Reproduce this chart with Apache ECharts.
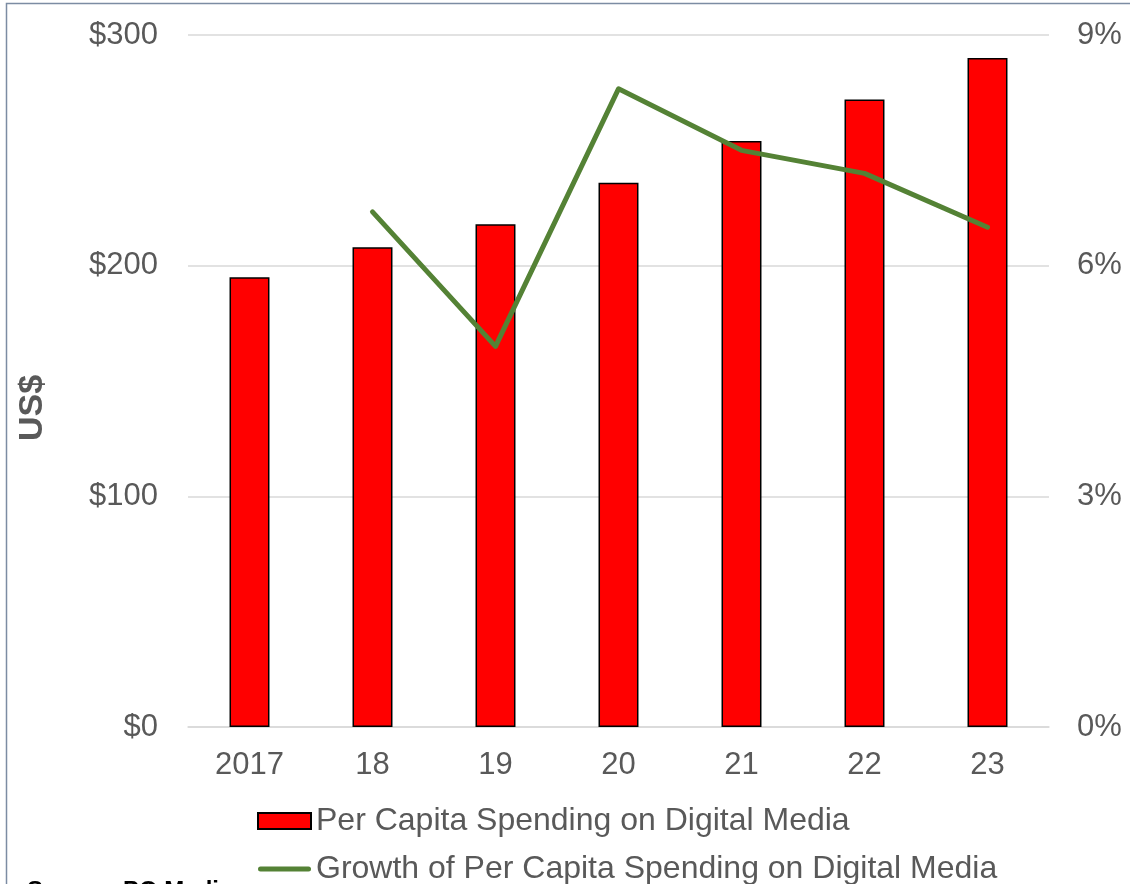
<!DOCTYPE html>
<html>
<head>
<meta charset="utf-8">
<script src="https://cdn.jsdelivr.net/npm/echarts@6/dist/echarts.min.js"></script>
<style>
  html, body { margin: 0; padding: 0; background: #fff; }
  #chart { width: 1130px; height: 884px; }
</style>
</head>
<body>
<div id="chart"></div>
<script>
// Per capita spending on digital media (US$) and its year-on-year growth (%)
const years = ['2017', '18', '19', '20', '21', '22', '23'];
const spending = [195, 208, 218, 236, 254, 272, 290];
const growth = [null, 6.7, 4.95, 8.3, 7.5, 7.2, 6.5];
const leftTicks = { min: 0, max: 300, interval: 100 };
const rightTicks = { min: 0, max: 9, interval: 3 };

const FONT = '"Liberation Sans", Arial, sans-serif';
const GREY = '#595959';
const GREEN = '#548235';

// thick rounded stroke used as the legend swatch of the growth line
const LINE_ICON = 'path://M0,0M53,16M2.5,5.5H50.5A2.5,2.5,0,0,1,50.5,10.5H2.5A2.5,2.5,0,0,1,2.5,5.5Z';

const chart = echarts.init(document.getElementById('chart'));
chart.setOption({
  animation: false,
  textStyle: { fontFamily: FONT },
  graphic: [
    {
      type: 'rect',
      shape: { x: 6.5, y: 3.5, width: 2000, height: 2000 },
      style: { fill: 'none', stroke: '#7C8CA3', lineWidth: 1.5 },
      silent: true
    },
    {
      type: 'text',
      x: 33, y: 408,
      rotation: Math.PI / 2,
      style: {
        text: 'US$', font: 'bold 34px ' + FONT, fill: GREY,
        align: 'center', verticalAlign: 'middle'
      }
    },
    {
      type: 'text',
      left: 27, top: 879,
      style: { text: 'Source: PQ Media', font: 'bold 24px ' + FONT, fill: '#000' }
    }
  ],
  grid: { left: 188, right: 81, top: 35, bottom: 157, containLabel: false },
  legend: {
    orient: 'vertical',
    left: 257,
    top: 804,
    height: 200,
    padding: 0,
    itemWidth: 53,
    itemHeight: 16,
    itemGap: 14,
    textStyle: { fontSize: 32, lineHeight: 34, color: GREY, fontFamily: FONT },
    data: [
      { name: 'Per Capita Spending on Digital Media', icon: 'rect' },
      { name: 'Growth of Per Capita Spending on Digital Media', icon: LINE_ICON,
        itemStyle: { color: GREEN, borderWidth: 0 } }
    ]
  },
  xAxis: {
    type: 'category',
    data: years,
    axisLine: { show: true, lineStyle: { color: '#D9D9D9', width: 1.5 } },
    axisTick: { show: false },
    axisLabel: { fontSize: 31, color: GREY, margin: 23 }
  },
  yAxis: [
    {
      type: 'value',
      min: leftTicks.min, max: leftTicks.max, interval: leftTicks.interval,
      axisLine: { show: false },
      axisTick: { show: false },
      splitLine: { lineStyle: { color: '#D9D9D9', width: 1.5 } },
      axisLabel: { fontSize: 31, color: GREY, margin: 30, formatter: v => '$' + v }
    },
    {
      type: 'value',
      min: rightTicks.min, max: rightTicks.max, interval: rightTicks.interval,
      axisLine: { show: false },
      axisTick: { show: false },
      splitLine: { show: false },
      axisLabel: { fontSize: 31, color: GREY, margin: 28, formatter: v => v + '%' }
    }
  ],
  series: [
    {
      name: 'Per Capita Spending on Digital Media',
      type: 'bar',
      data: spending,
      barWidth: '32.5%',
      itemStyle: { color: '#FF0000', borderColor: '#000', borderWidth: 1.5 }
    },
    {
      name: 'Growth of Per Capita Spending on Digital Media',
      type: 'line',
      yAxisIndex: 1,
      data: growth,
      symbol: 'none',
      connectNulls: false,
      itemStyle: { color: GREEN },
      lineStyle: { color: GREEN, width: 5, cap: 'round', join: 'round' }
    }
  ]
});
</script>
</body>
</html>
